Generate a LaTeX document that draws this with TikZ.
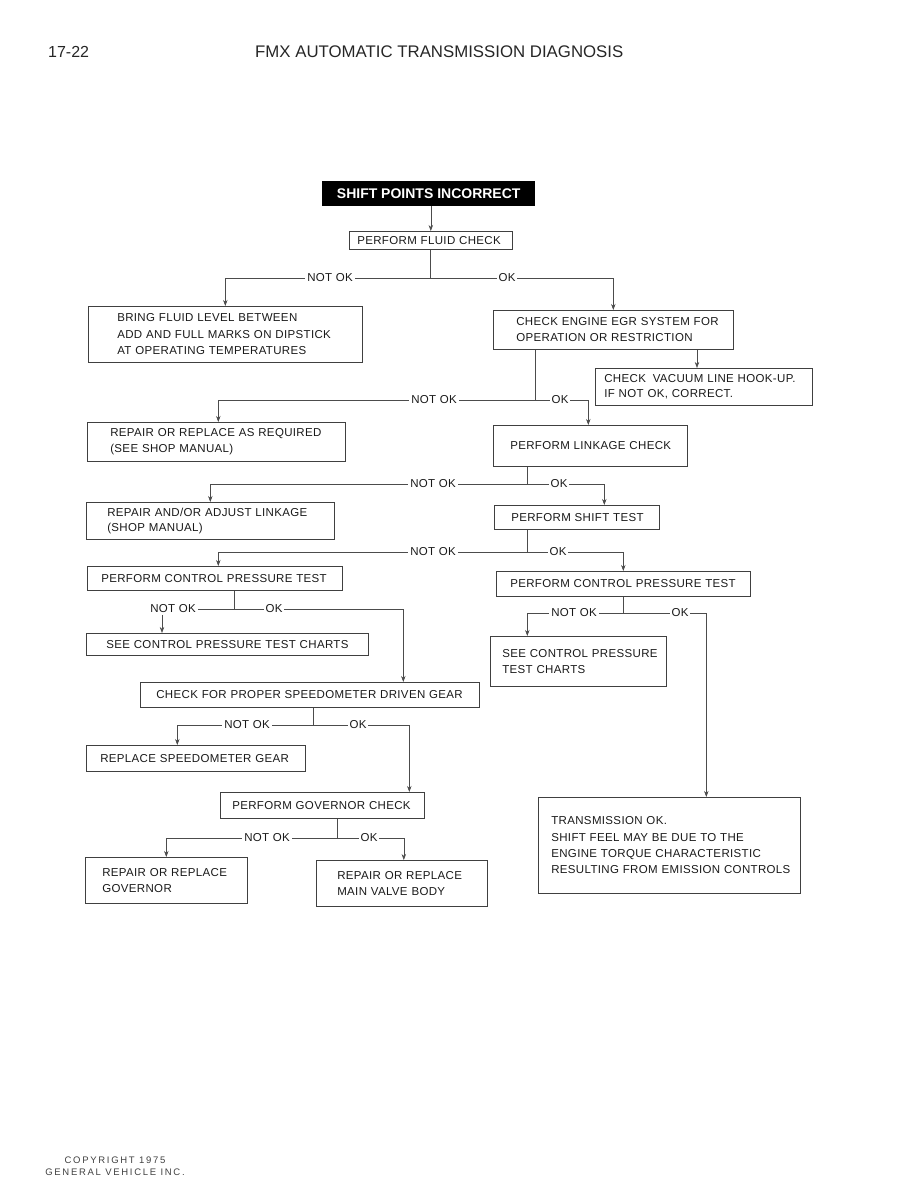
\documentclass[tikz,border=0pt]{standalone}
\usepackage{fontspec}
\setmainfont{Liberation Sans}
\newfontfamily\boxfont{Liberation Sans}[LetterSpace=3]
\newfontfamily\copyfont{Liberation Sans}[LetterSpace=18]
\usetikzlibrary{arrows.meta}
\begin{document}
\begin{tikzpicture}[x=1pt,y=-1pt,
  box/.style={draw=black!75, line width=0.6pt, anchor=north west, inner xsep=0pt, inner ysep=0pt,
    align=left, text=black!90, font=\boxfont\fontsize{11.5}{15.5}\selectfont},
  wide/.style={font=\boxfont\fontsize{11.5}{16.3}\selectfont},
  tb/.style n args={3}{text width=#1pt, minimum height=#2pt,
    execute at begin node={\leftskip=#3pt\rightskip=-40pt plus 1fil\relax}},
  conn/.style={draw=black!70, line width=0.55pt},
  arr/.style={conn, -{Stealth[length=6pt,width=4.4pt]}},
  lbl/.style={fill=white, inner xsep=2pt, inner ysep=1.5pt, text=black!90, font=\boxfont\fontsize{11.5}{13}\selectfont},
]
\useasboundingbox (0,0) rectangle (918,1188);

% header
\node[anchor=base west, inner sep=0pt, font=\fontsize{16}{18}\selectfont, text=black!85] (pg) at (48,58) {17-22};
\node[anchor=base west, inner sep=0pt, font=\fontsize{16.8}{18}\selectfont, text=black!85] (hdr) at (255,58) {FMX AUTOMATIC TRANSMISSION DIAGNOSIS};

% title
\node[fill=black, text=white, anchor=north west, inner sep=0pt, minimum width=213pt, minimum height=25pt,
  font=\bfseries\fontsize{14}{16}\selectfont] (title) at (322,181) {SHIFT POINTS INCORRECT};

% boxes
\node[box, tb={163}{18}{8}] (fluid) at (349,231) {PERFORM FLUID CHECK};
\node[box, wide, tb={274}{56}{29}] (bring) at (88,306) {BRING FLUID LEVEL BETWEEN\\ADD AND FULL MARKS ON DIPSTICK\\AT OPERATING TEMPERATURES};
\node[box, wide, tb={240}{39}{23}] (egr) at (493,310) {CHECK ENGINE EGR SYSTEM FOR\\OPERATION OR RESTRICTION};
\node[box, tb={217}{37}{9}] (vac) at (595,368) {CHECK\hspace{3pt} VACUUM LINE HOOK-UP.\\IF NOT OK, CORRECT.};
\node[box, tb={258}{39}{23}] (rep1) at (87,422) {REPAIR OR REPLACE AS REQUIRED\\(SEE SHOP MANUAL)};
\node[box, tb={194}{41}{17}] (link) at (493,425) {PERFORM LINKAGE CHECK};
\node[box, tb={248}{37}{21}] (adj) at (86,502) {REPAIR AND/OR ADJUST LINKAGE\\(SHOP MANUAL)};
\node[box, tb={165}{24}{17}] (shift) at (494,505) {PERFORM SHIFT TEST};
\node[box, tb={255}{24}{14}] (cpl) at (87,566) {PERFORM CONTROL PRESSURE TEST};
\node[box, tb={254}{25}{14}] (cpr) at (496,571) {PERFORM CONTROL PRESSURE TEST};
\node[box, tb={282}{22}{20}] (seel) at (86,633) {SEE CONTROL PRESSURE TEST CHARTS};
\node[box, tb={176}{50}{12}] (seer) at (490,636) {SEE CONTROL PRESSURE\\TEST CHARTS};
\node[box, tb={339}{25}{16}] (speedo) at (140,682) {CHECK FOR PROPER SPEEDOMETER DRIVEN GEAR};
\node[box, tb={219}{26}{14}] (repl) at (86,745) {REPLACE SPEEDOMETER GEAR};
\node[box, tb={204}{26}{12}] (gov) at (220,792) {PERFORM GOVERNOR CHECK};
\node[box, tb={162}{46}{17}] (repgov) at (85,857) {REPAIR OR REPLACE\\GOVERNOR};
\node[box, tb={171}{46}{21}] (mvb) at (316,860) {REPAIR OR REPLACE\\MAIN VALVE BODY};
\node[box, wide, tb={262}{96}{13}] (trans) at (538,797) {TRANSMISSION OK.\\SHIFT FEEL MAY BE DUE TO THE\\ENGINE TORQUE CHARACTERISTIC\\RESULTING FROM EMISSION CONTROLS};

% junctions
\coordinate (j1) at (430,278);
\coordinate (j2) at (535,400);
\coordinate (j3) at (527,484);
\coordinate (j4) at (527,552);
\coordinate (j5) at (234,609);
\coordinate (j6) at (623,613);
\coordinate (j7) at (313,725);
\coordinate (j8) at (337,838);

\node[lbl] (n5) at (173,609) {NOT OK};

% connectors
\draw[arr] (title.south -| fluid.north) -- (fluid.north);
\draw[conn] (fluid.south -| j1) -- (j1);
\draw[arr] (j1) -| (bring.north);
\draw[arr] (j1) -| (egr.north);

\draw[arr] (egr.south -| 697,0) -- (vac.north -| 697,0);
\draw[conn] (egr.south -| j2) -- (j2);
\draw[arr] (j2) -| ([xshift=2pt]rep1.north);
\draw[arr] (j2) -| ([xshift=-2pt]link.north);

\draw[conn] (link.south -| j3) -- (j3);
\draw[arr] (j3) -| (adj.north);
\draw[arr] (j3) -| ([xshift=27.5pt]shift.north);

\draw[conn] (shift.south -| j4) -- (j4);
\draw[arr] (j4) -| ([xshift=3.5pt]cpl.north);
\draw[arr] (j4) -| (cpr.north);

\draw[conn] (cpl.south -| j5) -- (j5);
\draw[conn] (j5) -- (n5);
\draw[arr] ([xshift=-11pt]n5.south) -- ([xshift=-11pt]n5.south |- seel.north);
\draw[arr] (j5) -| ([xshift=93.5pt]speedo.north);

\draw[conn] (cpr.south -| j6) -- (j6);
\draw[arr] (j6) -| ([xshift=-51pt]seer.north);
\draw[arr] (j6) -| ([xshift=37pt]trans.north);

\draw[conn] (speedo.south -| j7) -- (j7);
\draw[arr] (j7) -| ([xshift=-18.5pt]repl.north);
\draw[arr] (j7) -| ([xshift=87pt]gov.north);

\draw[conn] (gov.south -| j8) -- (j8);
\draw[arr] (j8) -| (repgov.north);
\draw[arr] (j8) -| ([xshift=2pt]mvb.north);

% labels on connectors
\node[lbl] (n1) at (330,278) {NOT OK};
\node[lbl] (o1) at (507,278) {OK};
\node[lbl] (n2) at (434,400) {NOT OK};
\node[lbl] (o2) at (560,400) {OK};
\node[lbl] (n3) at (433,484) {NOT OK};
\node[lbl] (o3) at (559,484) {OK};
\node[lbl] (n4) at (433,552) {NOT OK};
\node[lbl] (o4) at (558,552) {OK};
\node[lbl] (o5) at (274,609) {OK};
\node[lbl] (n6) at (574,613) {NOT OK};
\node[lbl] (o6) at (680,613) {OK};
\node[lbl] (n7) at (247,725) {NOT OK};
\node[lbl] (o7) at (358,725) {OK};
\node[lbl] (n8) at (267,838) {NOT OK};
\node[lbl] (o8) at (369,838) {OK};

% footer
\node[align=center, inner sep=0pt, text=black!75, font=\copyfont\fontsize{9.5}{11.5}\selectfont] (copy) at (115,1166) {COPYRIGHT 1975\\GENERAL VEHICLE INC.};
\end{tikzpicture}
\end{document}
